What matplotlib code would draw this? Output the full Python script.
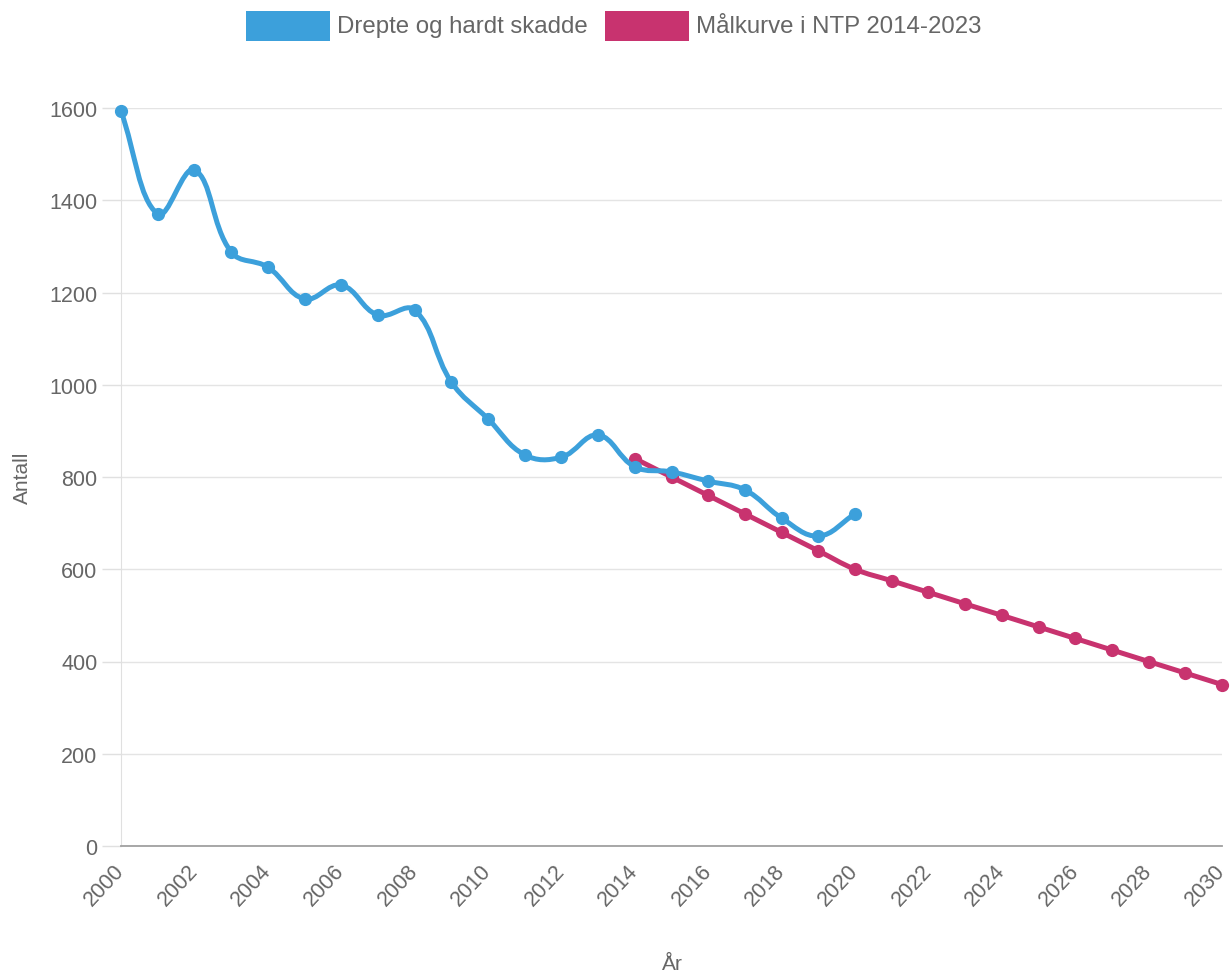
import matplotlib
matplotlib.use("Agg")
import matplotlib.pyplot as plt
import numpy as np
from matplotlib.path import Path
from matplotlib.patches import PathPatch, Rectangle

plt.rcParams['font.family'] = ['Liberation Sans', 'DejaVu Sans']

years_obs = [2000, 2001, 2002, 2003, 2004, 2005, 2006, 2007, 2008, 2009, 2010,
             2011, 2012, 2013, 2014, 2015, 2016, 2017, 2018, 2019, 2020]
killed_injured = [1593, 1370, 1466, 1288, 1255, 1186, 1216, 1151, 1162, 1006, 926,
                  848, 843, 891, 822, 811, 791, 772, 711, 672, 720]

years_target = list(range(2014, 2031))
target = [840, 800, 760, 720, 680, 640, 600, 575, 550, 525, 500, 475, 450, 425, 400, 375, 350]

series_names = ["Drepte og hardt skadde", "Målkurve i NTP 2014-2023"]
colors = ["#3ca0db", "#c8336f"]
y_ticks = [0, 200, 400, 600, 800, 1000, 1200, 1400, 1600]
x_ticks = list(range(2000, 2031, 2))

W, H = 1232, 979
fig = plt.figure(figsize=(W / 100, H / 100), dpi=100)
ax = fig.add_axes([121 / W, 1 - 847 / H, (1222 - 121) / W, (847 - 109) / H])
ax.set_xlim(2000, 2030)
ax.set_ylim(0, 1600)

gray = "#666666"
ax.set_yticks(y_ticks)
ax.set_xticks(x_ticks)
ax.set_xticklabels([str(x) for x in x_ticks], rotation=47, ha='right', va='center',
                   rotation_mode='anchor')
ax.tick_params(axis='y', length=14, width=1, color="#e0e0e0", labelsize=15.5,
               labelcolor=gray, pad=3)
ax.tick_params(axis='x', length=0, labelsize=15.5, labelcolor=gray, pad=15)
ax.grid(axis='y', color="#e4e4e4", linewidth=1)
ax.set_axisbelow(True)
for s in ['top', 'right']:
    ax.spines[s].set_visible(False)
ax.spines['left'].set_color("#e0e0e0")
ax.spines['bottom'].set_color("#a0a0a0")
ax.spines['bottom'].set_linewidth(1.3)

fig.text(22 / W, 1 - 478 / H, "Antall", fontsize=15, color=gray, rotation=90,
         ha='center', va='center')
fig.text(672 / W, 1 - 965 / H, "År", fontsize=15, color=gray,
         ha='center', va='center')

fig.canvas.draw()


def spline_path(xs, ys, tension=0.4):
    pts = ax.transData.transform(np.column_stack([xs, ys]))
    n = len(pts)
    prev_cp = np.zeros_like(pts)
    next_cp = np.zeros_like(pts)
    for i in range(n):
        p1 = pts[i]
        p0 = pts[i - 1] if i > 0 else p1
        p2 = pts[i + 1] if i < n - 1 else p1
        d01 = np.hypot(*(p1 - p0))
        d12 = np.hypot(*(p2 - p1))
        tot = d01 + d12
        s01 = d01 / tot if tot else 0
        s12 = d12 / tot if tot else 0
        fa = tension * s01
        fb = tension * s12
        prev_cp[i] = p1 - fa * (p2 - p0)
        next_cp[i] = p1 + fb * (p2 - p0)
    verts = [pts[0]]
    codes = [Path.MOVETO]
    for i in range(n - 1):
        verts += [next_cp[i], prev_cp[i + 1], pts[i + 1]]
        codes += [Path.CURVE4] * 3
    verts = ax.transData.inverted().transform(np.array(verts))
    return Path(verts, codes)


# target (drawn below)
p2 = spline_path(years_target, target)
ax.add_patch(PathPatch(p2, facecolor='none', edgecolor=colors[1], linewidth=3.6,
                       zorder=3, capstyle='round', joinstyle='round'))
ax.plot(years_target, target, 'o', color=colors[1], markersize=8.5, zorder=3.1,
        clip_on=False)

p1 = spline_path(years_obs, killed_injured)
ax.add_patch(PathPatch(p1, facecolor='none', edgecolor=colors[0], linewidth=3.6,
                       zorder=4, capstyle='round', joinstyle='round'))
ax.plot(years_obs, killed_injured, 'o', color=colors[0], markersize=8.5, zorder=4.1,
        clip_on=False)

# legend
legend_items = [(246, 337), (605, 696)]
for (bx, tx), name, c in zip(legend_items, series_names, colors):
    fig.patches.append(Rectangle((bx / W, 1 - 42 / H), 84 / W, 30 / H,
                                 transform=fig.transFigure, facecolor=c,
                                 edgecolor='none'))
    fig.text(tx / W, 1 - 27 / H, name, fontsize=17.3, color=gray,
             ha='left', va='center')

fig.savefig("out.png", dpi=100)
